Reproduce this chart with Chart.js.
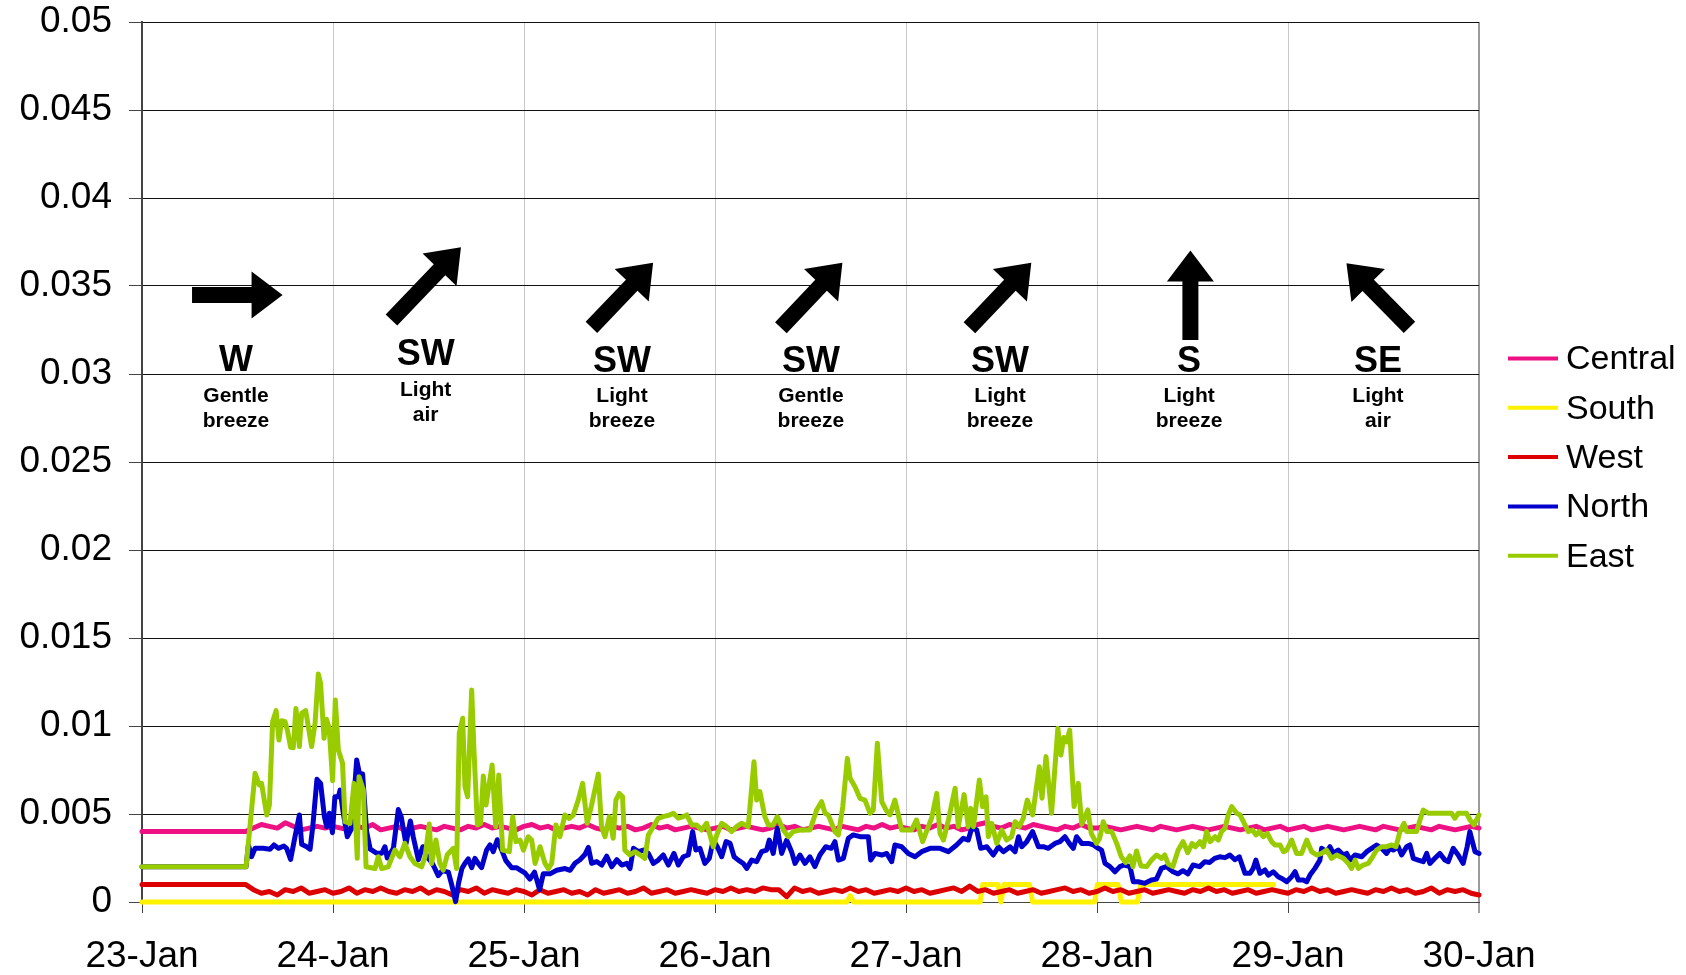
<!DOCTYPE html>
<html>
<head>
<meta charset="utf-8">
<script src="https://cdn.jsdelivr.net/npm/chart.js@4.4.1/dist/chart.umd.min.js"></script>
<style>
  html, body { margin: 0; padding: 0; background: #ffffff; }
  #wrap { width: 1686px; height: 975px; }
</style>
</head>
<body>
<div id="wrap"><canvas id="c" width="1686" height="975"></canvas></div>
<script>
// ---------- DATA ----------
const xTickLabels = ['23-Jan','24-Jan','25-Jan','26-Jan','27-Jan','28-Jan','29-Jan','30-Jan'];
const yTickLabels = ['0','0.005','0.01','0.015','0.02','0.025','0.03','0.035','0.04','0.045','0.05'];
const seriesNames = ['Central','South','West','North','East'];

// Central: hourly readings, hour 0 = 23-Jan 00:00
const centralV = [
  0.004,0.004,0.004,0.004,0.004,0.004,0.004,0.004,0.004,0.004,0.004,0.004,0.004,0.004,0.0042,0.0044,0.0043,0.0042,0.0045,0.0043,0.0041,0.0042,0.0043,0.0042,
  0.0043,0.0042,0.0041,0.0043,0.0042,0.0044,0.0041,0.0042,0.0043,0.0041,0.0042,0.0043,0.0042,0.0041,0.0043,0.0042,0.0041,0.0043,0.0042,0.0044,0.0042,0.0043,0.0042,0.0041,
  0.0043,0.0044,0.0042,0.0043,0.0041,0.0042,0.0043,0.0042,0.0044,0.0042,0.0041,0.0043,0.0042,0.0043,0.0041,0.0042,0.0044,0.0042,0.0043,0.0041,0.0042,0.0043,0.0042,0.0041,
  0.0042,0.0043,0.0041,0.0042,0.0043,0.0042,0.0041,0.0042,0.0044,0.0042,0.0043,0.0041,0.0042,0.0043,0.0042,0.0041,0.0043,0.0042,0.0041,0.0043,0.0042,0.0044,0.0042,0.0043,
  0.0042,0.0041,0.0043,0.0042,0.0044,0.0042,0.0043,0.0041,0.0042,0.0044,0.0045,0.0043,0.0042,0.0044,0.0043,0.0042,0.0044,0.0043,0.0042,0.0041,0.0043,0.0042,0.0044,0.0042,
  0.0042,0.0043,0.0042,0.0041,0.0042,0.0043,0.0042,0.0041,0.0043,0.0042,0.0041,0.0042,0.0043,0.0042,0.0041,0.0042,0.0043,0.0042,0.0041,0.0042,0.0043,0.0041,0.0042,0.0043,
  0.0041,0.0042,0.0043,0.0041,0.0042,0.0043,0.0042,0.0041,0.0042,0.0043,0.0042,0.0041,0.0043,0.0042,0.0041,0.0042,0.0043,0.0042,0.0041,0.0043,0.0042,0.0041,0.0042,0.0043,
  0.0042
];

// West: hourly readings
const westV = [
  0.001,0.001,0.001,0.001,0.001,0.001,0.001,0.001,0.001,0.001,0.001,0.001,0.001,0.001,0.0007,0.0005,0.0006,0.0004,0.0007,0.0006,0.0008,0.0005,0.0006,0.0007,
  0.0005,0.0006,0.0008,0.0005,0.0007,0.0006,0.0008,0.0006,0.0005,0.0007,0.0006,0.0008,0.0005,0.0007,0.0006,0.0004,0.0007,0.0006,0.0008,0.0005,0.0007,0.0006,0.0005,0.0007,
  0.0006,0.0004,0.0007,0.0005,0.0006,0.0007,0.0005,0.0006,0.0004,0.0007,0.0005,0.0006,0.0007,0.0005,0.0006,0.0008,0.0005,0.0006,0.0007,0.0005,0.0006,0.0007,0.0006,0.0005,
  0.0007,0.0006,0.0008,0.0006,0.0007,0.0006,0.0008,0.0007,0.0007,0.0003,0.0008,0.0006,0.0007,0.0005,0.0006,0.0007,0.0006,0.0008,0.0006,0.0007,0.0005,0.0006,0.0007,0.0006,
  0.0008,0.0006,0.0007,0.0005,0.0006,0.0007,0.0008,0.0006,0.0009,0.0006,0.0007,0.0005,0.0006,0.0007,0.0005,0.0006,0.0007,0.0005,0.0006,0.0007,0.0008,0.0006,0.0007,0.0005,
  0.0006,0.0008,0.0006,0.0007,0.0005,0.0006,0.0007,0.0005,0.0006,0.0007,0.0006,0.0005,0.0007,0.0006,0.0008,0.0006,0.0007,0.0005,0.0006,0.0007,0.0005,0.0006,0.0007,0.0006,
  0.0005,0.0007,0.0006,0.0008,0.0006,0.0007,0.0005,0.0006,0.0007,0.0006,0.0005,0.0007,0.0006,0.0008,0.0006,0.0007,0.0005,0.0006,0.0008,0.0005,0.0007,0.0006,0.0007,0.0005,
  0.0004
];

// South: times in days from 23-Jan 00:00
const southT = [0, 3.690, 3.708, 3.726, 4.388, 4.402, 4.482, 4.497, 4.513, 4.647, 4.663, 4.988, 5.002, 5.110, 5.128, 5.212, 5.228, 5.925];
const southV = [0, 0, 0.00036, 0, 0, 0.001, 0.001, 0, 0.001, 0.001, 0, 0, 0.001, 0.001, 0, 0, 0.001, 0.001];

// North: times (days) and values
const northT = [0,0.545,0.557,0.574,0.592,0.635,0.67,0.691,0.714,0.743,0.757,0.778,0.801,0.824,0.836,0.862,0.88,0.894,0.916,0.935,0.955,0.967,0.981,0.997,
  1.01,1.028,1.037,1.054,1.075,1.093,1.11,1.124,1.138,1.155,1.176,1.195,1.228,1.255,1.272,1.284,1.316,1.342,1.357,1.382,1.405,1.42,1.447,1.47,1.492,1.52,1.551,1.572,1.604,1.621,1.642,1.658,1.675,1.691,1.708,1.726,1.743,1.76,1.778,1.804,1.822,1.839,1.86,1.883,1.905,1.935,1.96,1.985,
  2.005,2.031,2.055,2.082,2.101,2.136,2.171,2.215,2.241,2.267,2.293,2.319,2.337,2.354,2.38,2.407,2.433,2.459,2.486,2.512,2.538,2.555,2.573,2.599,2.625,2.651,2.677,2.703,2.729,2.756,2.785,2.808,2.834,2.86,2.883,2.9,2.921,2.947,2.97,2.991,
  3.012,3.035,3.058,3.079,3.1,3.122,3.148,3.166,3.192,3.218,3.244,3.27,3.284,3.305,3.326,3.349,3.375,3.401,3.419,3.445,3.471,3.497,3.523,3.549,3.58,3.609,3.628,3.646,3.672,3.698,3.724,3.759,3.803,3.815,3.838,3.873,3.899,3.925,3.942,3.977,
  4.012,4.047,4.082,4.126,4.178,4.222,4.265,4.3,4.326,4.344,4.37,4.391,4.423,4.457,4.484,4.51,4.545,4.571,4.589,4.606,4.632,4.663,4.693,4.719,4.745,4.78,4.806,4.832,4.855,4.876,4.893,4.92,4.955,4.981,
  5.007,5.024,5.042,5.068,5.094,5.12,5.141,5.173,5.19,5.216,5.25,5.285,5.311,5.337,5.363,5.398,5.424,5.45,5.476,5.503,5.537,5.564,5.59,5.616,5.642,5.67,5.696,5.722,5.745,5.757,5.775,5.801,5.818,5.832,5.853,5.879,5.897,5.923,5.949,5.967,5.993,
  6.019,6.037,6.054,6.08,6.098,6.115,6.141,6.167,6.176,6.202,6.22,6.237,6.263,6.29,6.307,6.325,6.351,6.386,6.412,6.438,6.464,6.49,6.516,6.534,6.551,6.577,6.595,6.621,6.638,6.656,6.682,6.708,6.726,6.743,6.769,6.795,6.822,6.839,6.865,6.891,6.917,6.938,6.952,6.979,7.0];
const northV = [0.002,0.002,0.00324,0.00258,0.00305,0.00305,0.003,0.00324,0.00305,0.00318,0.00305,0.00242,0.00371,0.00494,0.00328,0.00314,0.003,0.00428,0.00697,0.00674,0.00485,0.00428,0.00504,0.00394,
  0.00598,0.00598,0.00636,0.00504,0.00371,0.00409,0.00598,0.00807,0.00731,0.00727,0.004,0.003,0.00278,0.00277,0.00314,0.0025,0.00305,0.00525,0.00485,0.0033,0.0046,0.00371,0.0024,0.00314,0.00258,0.0022,0.0015,0.00178,0.0017,0.001,0.00002,0.0011,0.0019,0.0022,0.00245,0.00195,0.00248,0.00219,0.00195,0.00295,0.00325,0.00286,0.00354,0.00296,0.00235,0.00195,0.00195,0.00178,
  0.00165,0.0013,0.0017,0.0007,0.0016,0.0016,0.0018,0.0019,0.0018,0.0022,0.0024,0.0027,0.0031,0.0022,0.0023,0.0021,0.0026,0.002,0.0024,0.0021,0.0022,0.0019,0.00305,0.00286,0.00295,0.00276,0.00219,0.00238,0.00267,0.0021,0.00276,0.0021,0.00257,0.00267,0.004,0.00295,0.00305,0.00219,0.00248,0.00352,
  0.00314,0.00257,0.00343,0.00333,0.00257,0.00238,0.00219,0.00191,0.00238,0.00229,0.00286,0.00295,0.00352,0.00276,0.00419,0.00276,0.00352,0.00286,0.00219,0.00267,0.00219,0.00257,0.00201,0.00267,0.00314,0.00305,0.00343,0.00238,0.00248,0.00362,0.00381,0.00371,0.00371,0.00238,0.00276,0.00267,0.00276,0.00229,0.00324,0.00314,
  0.00276,0.00257,0.00286,0.00305,0.00305,0.00286,0.00324,0.00362,0.00352,0.00419,0.0041,0.00305,0.00314,0.00267,0.00314,0.00286,0.00314,0.00286,0.00371,0.00314,0.00343,0.004,0.00314,0.00314,0.00305,0.00333,0.00343,0.00371,0.00333,0.00305,0.00371,0.00333,0.00333,0.00324,
  0.00305,0.00295,0.00219,0.00201,0.00172,0.00201,0.0021,0.00201,0.00115,0.00115,0.00106,0.00125,0.0013,0.00191,0.00201,0.00172,0.0016,0.00178,0.0016,0.0021,0.00201,0.00229,0.00225,0.00248,0.00257,0.00252,0.00267,0.0024,0.00257,0.00219,0.00163,0.00163,0.00191,0.00238,0.00163,0.00182,0.00153,0.00172,0.00144,0.00134,0.00115,
  0.00144,0.00172,0.00125,0.00125,0.00115,0.00153,0.00191,0.00238,0.00305,0.00286,0.00314,0.00276,0.00295,0.00267,0.00276,0.00238,0.00267,0.00257,0.00286,0.00305,0.00324,0.00305,0.00276,0.00305,0.00295,0.00314,0.00267,0.00314,0.00324,0.00248,0.00238,0.00229,0.00276,0.00219,0.00248,0.00276,0.00238,0.00229,0.00305,0.00267,0.00219,0.00314,0.004,0.00286,0.00276];

// East: times (days) and values
const eastT = [0,0.545,0.592,0.614,0.626,0.653,0.667,0.684,0.702,0.717,0.731,0.749,0.761,0.778,0.792,0.806,0.824,0.836,0.857,0.888,0.906,0.923,0.935,0.953,0.966,0.98,0.998,
  1.012,1.028,1.05,1.063,1.089,1.11,1.127,1.136,1.159,1.173,1.22,1.237,1.255,1.289,1.324,1.35,1.376,1.403,1.429,1.464,1.482,1.504,1.516,1.539,1.56,1.577,1.598,1.63,1.647,1.661,1.679,1.691,1.705,1.726,1.738,1.756,1.773,1.787,1.801,1.833,1.852,1.868,1.888,1.923,1.941,1.958,1.979,1.997,
  2.022,2.04,2.058,2.084,2.11,2.127,2.145,2.167,2.188,2.214,2.237,2.258,2.284,2.307,2.331,2.354,2.389,2.406,2.424,2.447,2.467,2.481,2.499,2.516,2.528,2.554,2.581,2.607,2.633,2.651,2.677,2.702,2.728,2.763,2.782,2.808,2.834,2.852,2.878,2.904,2.93,2.956,2.974,2.991,
  3.009,3.035,3.061,3.087,3.113,3.139,3.174,3.204,3.218,3.235,3.261,3.279,3.305,3.326,3.358,3.384,3.41,3.445,3.471,3.497,3.515,3.532,3.558,3.576,3.593,3.611,3.628,3.646,3.669,3.693,3.707,3.733,3.759,3.785,3.812,3.829,3.85,3.873,3.895,3.916,3.942,3.96,3.977,
  4.003,4.029,4.055,4.087,4.117,4.134,4.161,4.178,4.196,4.222,4.257,4.274,4.304,4.326,4.339,4.353,4.384,4.401,4.419,4.431,4.449,4.475,4.501,4.527,4.553,4.571,4.593,4.614,4.635,4.663,4.698,4.712,4.733,4.762,4.795,4.811,4.826,4.841,4.857,4.88,4.902,4.92,4.952,4.97,4.997,
  5.014,5.033,5.052,5.077,5.103,5.127,5.15,5.172,5.188,5.207,5.23,5.26,5.285,5.312,5.338,5.355,5.373,5.397,5.425,5.451,5.475,5.498,5.515,5.539,5.557,5.574,5.592,5.618,5.635,5.652,5.67,5.687,5.705,5.731,5.749,5.775,5.792,5.815,5.832,5.85,5.871,5.892,5.914,5.932,5.958,5.976,5.993,
  6.019,6.045,6.071,6.098,6.124,6.15,6.176,6.202,6.228,6.255,6.29,6.316,6.333,6.351,6.368,6.394,6.42,6.443,6.464,6.49,6.516,6.543,6.565,6.586,6.607,6.621,6.647,6.673,6.691,6.708,6.734,6.778,6.83,6.856,6.874,6.891,6.935,6.953,6.974,7.0];
const eastV = [0.002,0.002,0.00731,0.00665,0.00674,0.00494,0.00551,0.01025,0.01087,0.0092,0.0103,0.01025,0.00977,0.00879,0.00877,0.011,0.00883,0.01072,0.01087,0.00883,0.01015,0.01295,0.01242,0.0093,0.01038,0.00987,0.00689,
  0.01148,0.00864,0.00788,0.00457,0.00447,0.00674,0.00248,0.00712,0.00636,0.002,0.0019,0.00257,0.0019,0.002,0.00295,0.00257,0.00333,0.00257,0.00219,0.002,0.00257,0.00443,0.00219,0.00352,0.00219,0.00181,0.00268,0.00305,0.0019,0.00958,0.01044,0.00655,0.00598,0.01205,0.00864,0.00438,0.00447,0.00716,0.00551,0.00778,0.00428,0.00722,0.00295,0.00286,0.00485,0.00343,0.00352,0.00295,
  0.00371,0.00352,0.00219,0.00314,0.00219,0.0019,0.00219,0.00438,0.00371,0.00494,0.00475,0.00494,0.00579,0.00674,0.00447,0.00551,0.00727,0.00428,0.00371,0.00485,0.00362,0.00579,0.00617,0.00598,0.00295,0.00268,0.00286,0.00268,0.00248,0.00381,0.00428,0.00475,0.00485,0.00494,0.00504,0.00476,0.00485,0.00495,0.00438,0.00438,0.00409,0.00447,0.00381,0.00314,
  0.00381,0.00447,0.00428,0.004,0.00428,0.00447,0.00428,0.00797,0.00579,0.00627,0.00485,0.00438,0.00438,0.00485,0.00409,0.00371,0.004,0.00409,0.00409,0.00409,0.00466,0.00523,0.0057,0.00504,0.00495,0.00447,0.004,0.00381,0.00542,0.00816,0.00703,0.00655,0.00589,0.00579,0.00504,0.00523,0.00902,0.0057,0.00523,0.00495,0.00579,0.00495,0.00409,
  0.00409,0.00409,0.00466,0.00343,0.00428,0.00476,0.00617,0.0039,0.00352,0.00466,0.00646,0.00428,0.0061,0.00428,0.00532,0.00428,0.00693,0.00542,0.00598,0.00371,0.00447,0.00333,0.00409,0.00352,0.00371,0.00456,0.00428,0.00476,0.00579,0.00495,0.00769,0.0059,0.00826,0.00504,0.00987,0.00835,0.00935,0.0091,0.00977,0.00542,0.00674,0.00442,0.00523,0.0039,0.00333,
  0.00362,0.00456,0.004,0.004,0.00333,0.00257,0.00224,0.00262,0.00201,0.0029,0.00205,0.00201,0.00238,0.00267,0.00248,0.00267,0.00215,0.00201,0.00295,0.00343,0.0028,0.00333,0.00314,0.00343,0.00314,0.004,0.00343,0.00371,0.00352,0.004,0.00419,0.00495,0.00542,0.00504,0.00495,0.00438,0.004,0.00409,0.00381,0.004,0.00371,0.0039,0.00343,0.00324,0.00324,0.00286,0.00295,
  0.00352,0.00276,0.00276,0.00352,0.00286,0.00267,0.00276,0.00295,0.00248,0.00267,0.00248,0.00219,0.00191,0.00238,0.00191,0.0021,0.00219,0.00257,0.00295,0.00314,0.00314,0.00324,0.00314,0.004,0.00447,0.004,0.004,0.004,0.00466,0.00523,0.00504,0.00504,0.00504,0.00504,0.00476,0.00504,0.00504,0.00466,0.00438,0.00495];

// Wind annotations (positions in chart units: days, concentration)
const windDay = [0.492, 1.485, 2.513, 3.502, 4.492, 5.482, 6.471];
const windDir = ['W', 'SW', 'SW', 'SW', 'SW', 'S', 'SE'];
const windDesc1 = ['Gentle', 'Light', 'Light', 'Gentle', 'Light', 'Light', 'Light'];
const windDesc2 = ['breeze', 'air', 'breeze', 'breeze', 'breeze', 'breeze', 'air'];
const windTextY = [0.03017, 0.03051, 0.03013, 0.03013, 0.03013, 0.03013, 0.03013];
const arrowTailX = [0.262, 1.306, 2.353, 3.345, 4.332, 5.489, 6.636];
const arrowTailY = [0.03449, 0.03307, 0.03265, 0.03263, 0.03263, 0.03193, 0.03265];
const arrowTipX  = [0.736, 1.670, 2.676, 3.667, 4.656, 5.489, 6.306];
const arrowTipY  = [0.03449, 0.03720, 0.03632, 0.03632, 0.03632, 0.03701, 0.03629];

// ---------- BUILD ----------
const seriesColors = ['#ee1183', '#fff200', '#dd0000', '#0000cc', '#99cc00'];
const hourPts = (vals) => vals.map((v, i) => ({ x: i / 24, y: v }));
const pairPts = (ts, vs) => ts.map((t, i) => ({ x: t, y: vs[i] }));

const dataSets = [
  hourPts(centralV),
  pairPts(southT, southV),
  hourPts(westV),
  pairPts(northT, northV),
  pairPts(eastT, eastV)
];

const FONT = '"Liberation Sans", Arial, Helvetica, sans-serif';

const overlayPlugin = {
  id: 'overlay',
  afterDatasetsDraw(chart) {
    const ctx = chart.ctx;
    const xs = chart.scales.x, ys = chart.scales.y;
    ctx.save();
    for (let i = 0; i < windDay.length; i++) {
      const x1 = xs.getPixelForValue(arrowTailX[i]), y1 = ys.getPixelForValue(arrowTailY[i]);
      const x2 = xs.getPixelForValue(arrowTipX[i]),  y2 = ys.getPixelForValue(arrowTipY[i]);
      const dx = x2 - x1, dy = y2 - y1, L = Math.hypot(dx, dy);
      const ux = dx / L, uy = dy / L, nx = -uy, ny = ux;
      const headLen = 31, headHalf = 23.5, shaftHalf = 8;
      const bx = x2 - ux * headLen, by = y2 - uy * headLen;
      ctx.beginPath();
      ctx.moveTo(x1 + nx * shaftHalf, y1 + ny * shaftHalf);
      ctx.lineTo(bx + nx * shaftHalf, by + ny * shaftHalf);
      ctx.lineTo(bx + nx * headHalf, by + ny * headHalf);
      ctx.lineTo(x2, y2);
      ctx.lineTo(bx - nx * headHalf, by - ny * headHalf);
      ctx.lineTo(bx - nx * shaftHalf, by - ny * shaftHalf);
      ctx.lineTo(x1 - nx * shaftHalf, y1 - ny * shaftHalf);
      ctx.closePath();
      ctx.fillStyle = '#000';
      ctx.fill();
      const tx = xs.getPixelForValue(windDay[i]);
      const ty = ys.getPixelForValue(windTextY[i]);
      ctx.textAlign = 'center';
      ctx.textBaseline = 'alphabetic';
      ctx.font = 'bold 36px ' + FONT;
      ctx.fillText(windDir[i], tx, ty);
      ctx.font = 'bold 21px ' + FONT;
      ctx.fillText(windDesc1[i], tx, ty + 30.5);
      ctx.fillText(windDesc2[i], tx, ty + 55.5);
    }
    const ds = chart.data.datasets;
    ctx.font = '34px ' + FONT;
    ctx.textAlign = 'left';
    ctx.textBaseline = 'middle';
    for (let i = 0; i < ds.length; i++) {
      const cy = 358.5 + i * 49.3;
      ctx.beginPath();
      ctx.moveTo(1508, cy);
      ctx.lineTo(1558, cy);
      ctx.lineWidth = 4;
      ctx.lineCap = 'butt';
      ctx.strokeStyle = ds[i].borderColor;
      ctx.stroke();
      ctx.fillStyle = '#000';
      ctx.fillText(ds[i].label, 1566, cy + 1.5);
    }
    ctx.restore();
  }
};

new Chart(document.getElementById('c'), {
  type: 'line',
  data: {
    datasets: seriesNames.map((name, i) => ({
      label: name,
      data: dataSets[i],
      borderColor: seriesColors[i],
      backgroundColor: seriesColors[i],
      borderWidth: 5,
      pointRadius: 0,
      tension: 0,
      fill: false,
      clip: false,
      borderJoinStyle: 'round',
      borderCapStyle: 'round',
      order: seriesNames.length - i
    }))
  },
  options: {
    responsive: false,
    animation: false,
    devicePixelRatio: 1,
    layout: { padding: { left: 0, right: 207, top: 22, bottom: 0 } },
    plugins: { legend: { display: false }, tooltip: { enabled: false } },
    scales: {
      x: {
        type: 'linear',
        min: 0, max: 7,
        afterFit(s) { s.height = 73; s.paddingLeft = 0; s.paddingRight = 0; },
        ticks: {
          stepSize: 1,
          autoSkip: false,
          maxRotation: 0,
          padding: 22,
          color: '#000',
          font: { family: FONT, size: 37 },
          callback: (v) => xTickLabels[Math.round(v)]
        },
        grid: {
          color: (c) => (c.tick && c.tick.value === 7) ? '#9a9a9a' : '#c8c8c8',
          lineWidth: (c) => (c.tick && c.tick.value === 7) ? 2 : 1,
          tickLength: 11,
          tickColor: '#444',
          tickWidth: 1
        },
        border: { color: '#444', width: 1 }
      },
      y: {
        min: 0, max: 0.05,
        afterFit(s) { s.width = 142; s.paddingTop = 0; s.paddingBottom = 0; },
        ticks: {
          stepSize: 0.005,
          padding: 17,
          color: '#000',
          font: { family: FONT, size: 37 },
          callback: (v) => yTickLabels[Math.round(v / 0.005)]
        },
        grid: {
          color: '#111',
          lineWidth: 1,
          tickLength: 13,
          tickColor: '#444',
          tickWidth: 1
        },
        border: { color: '#444', width: 2 }
      }
    }
  },
  plugins: [overlayPlugin]
});
</script>
</body>
</html>
